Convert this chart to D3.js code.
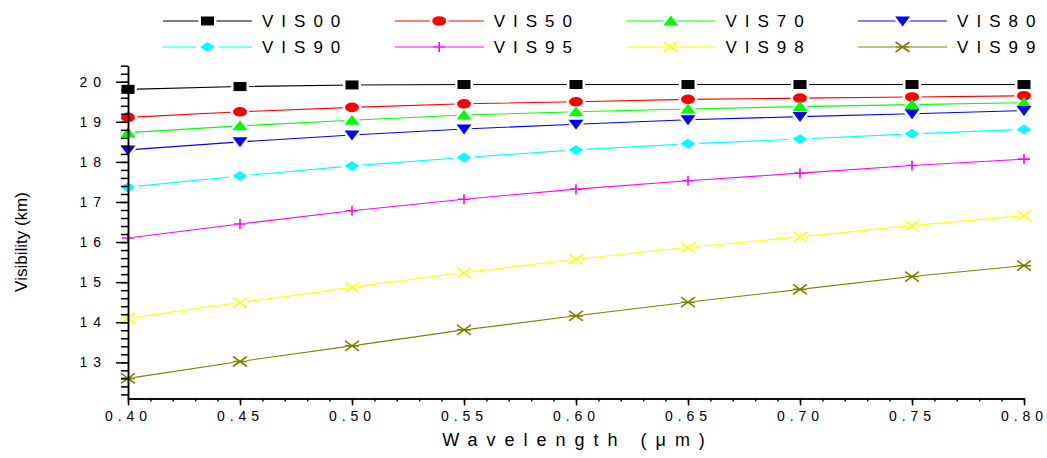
<!DOCTYPE html>
<html>
<head>
<meta charset="utf-8">
<script src="https://cdn.jsdelivr.net/npm/d3@7"></script>
<style>
  body { margin: 0; background: #fff; }
  text { font-family: Arial, "Liberation Sans", sans-serif; fill: #000; }
</style>
</head>
<body>
<script>
// Data
var wavelengths = [0.40, 0.45, 0.50, 0.55, 0.60, 0.65, 0.70, 0.75, 0.80];
var vis00 = [19.81, 19.88, 19.92, 19.93, 19.93, 19.93, 19.93, 19.93, 19.93];
var vis50 = [19.11, 19.25, 19.36, 19.45, 19.50, 19.56, 19.59, 19.62, 19.65];
var vis70 = [18.73, 18.90, 19.04, 19.17, 19.25, 19.32, 19.38, 19.43, 19.48];
var vis80 = [18.30, 18.50, 18.67, 18.82, 18.94, 19.05, 19.13, 19.20, 19.28];
var vis90 = [17.37, 17.65, 17.90, 18.11, 18.30, 18.45, 18.57, 18.70, 18.81];
var vis95 = [16.10, 16.45, 16.78, 17.07, 17.32, 17.53, 17.72, 17.91, 18.07];
var vis98 = [14.10, 14.49, 14.87, 15.24, 15.57, 15.87, 16.13, 16.41, 16.66];
var vis99 = [12.60, 13.02, 13.41, 13.81, 14.16, 14.50, 14.82, 15.14, 15.41];

var seriesNames = ['VIS00', 'VIS50', 'VIS70', 'VIS80', 'VIS90', 'VIS95', 'VIS98', 'VIS99'];
var seriesValues = [vis00, vis50, vis70, vis80, vis90, vis95, vis98, vis99];
var colors = ['#000000', '#ff0000', '#00ff00', '#0000ff', '#00ffff', '#ff00ff', '#ffff00', '#808000'];
var symbols = ['square', 'circle', 'up', 'down', 'diamond', 'plus', 'cross', 'star'];

var xTicks = [0.40, 0.45, 0.50, 0.55, 0.60, 0.65, 0.70, 0.75, 0.80];
var yTicks = [13, 14, 15, 16, 17, 18, 19, 20];

var W = 1047, H = 458;
var xScale = d3.scaleLinear().domain([0.40, 0.80]).range([128, 1024]);
var yScale = d3.scaleLinear().domain([12.1, 20.4]).range([398.4, 65.7]);

var svg = d3.select('body').append('svg')
    .attr('width', W)
    .attr('height', H);

// marker shapes (stretched a bit horizontally like the original)
function markerPath(type) {
    switch (type) {
        case 'square':  return 'M-6.5,-4.5H6.5V4.5H-6.5Z';
        case 'circle':  return 'M-7,0A7,4.8 0 1,0 7,0A7,4.8 0 1,0 -7,0Z';
        case 'up':      return 'M0,-5.5L7.5,4.5L-7.5,4.5Z';
        case 'down':    return 'M0,5.5L7.5,-4.5L-7.5,-4.5Z';
        case 'diamond': return 'M0,-5L7.5,0L0,5L-7.5,0Z';
        case 'plus':    return 'M-6,0H6M0,-5V5';
        case 'cross':   return 'M-7,-5L7,5M-7,5L7,-5';
        case 'star':    return 'M-7,-5L7,5M-7,5L7,-5M-7,0H7';
    }
}
function isFilled(type) {
    return ['square', 'circle', 'up', 'down', 'diamond'].indexOf(type) >= 0;
}
// white halo leaves a small gap in the line around each marker
function drawHalo(g, type, x, y) {
    g.append('path')
        .attr('d', markerPath(type))
        .attr('transform', 'translate(' + x + ',' + y + ')')
        .attr('fill', isFilled(type) ? '#fff' : 'none')
        .attr('stroke', '#fff')
        .attr('stroke-width', 5);
}
function drawMarker(g, type, color, x, y) {
    var filled = isFilled(type);
    g.append('path')
        .attr('d', markerPath(type))
        .attr('transform', 'translate(' + x + ',' + y + ')')
        .attr('fill', filled ? color : 'none')
        .attr('stroke', color)
        .attr('stroke-width', filled ? 0 : 1.6);
}

// Lines, then halos, then markers
var line = d3.line()
    .x(function(d, i) { return xScale(wavelengths[i]); })
    .y(function(d) { return yScale(d); });

var gLines = svg.append('g'), gHalo = svg.append('g'), gMarks = svg.append('g');
seriesValues.forEach(function(vals, s) {
    gLines.append('path')
        .attr('d', line(vals))
        .attr('fill', 'none')
        .attr('stroke', colors[s])
        .attr('stroke-width', 1.1);
    vals.forEach(function(v, i) {
        drawHalo(gHalo, symbols[s], xScale(wavelengths[i]), yScale(v));
        drawMarker(gMarks, symbols[s], colors[s], xScale(wavelengths[i]), yScale(v));
    });
});

// X axis (minor then major)
var minorX = d3.range(0, 41).map(function(i) { return 0.40 + i * 0.01; });
svg.append('g')
   .attr('transform', 'translate(0,' + yScale(12.1) + ')')
   .call(d3.axisBottom(xScale).tickValues(minorX).tickSize(3).tickSizeOuter(0).tickFormat(''))
   .call(function(g) { g.selectAll('line, path').attr('stroke-width', 1.5); });
var xAxis = svg.append('g')
   .attr('transform', 'translate(0,' + yScale(12.1) + ')')
   .call(d3.axisBottom(xScale).tickValues(xTicks).tickSize(7).tickSizeOuter(0).tickPadding(6)
         .tickFormat(d3.format('.2f')));
xAxis.selectAll('line, path').attr('stroke-width', 1.5);
xAxis.selectAll('text')
   .attr('font-size', 14)
   .attr('font-family', 'Arial, "Liberation Sans", sans-serif')
   .style('letter-spacing', '5px');

// Y axis (minor then major)
var minorY = d3.range(0, 42).map(function(i) { return 12.2 + i * 0.2; });
svg.append('g')
   .attr('transform', 'translate(' + xScale(0.40) + ',0)')
   .call(d3.axisLeft(yScale).tickValues(minorY).tickSize(7).tickSizeOuter(0).tickFormat(''))
   .call(function(g) { g.selectAll('line, path').attr('stroke-width', 1.5); });
var yAxis = svg.append('g')
   .attr('transform', 'translate(' + xScale(0.40) + ',0)')
   .call(d3.axisLeft(yScale).tickValues(yTicks).tickSize(12).tickSizeOuter(0).tickPadding(9)
         .tickFormat(d3.format('d')));
yAxis.selectAll('line, path').attr('stroke-width', 1.5);
yAxis.selectAll('text')
   .attr('font-size', 14)
   .attr('font-family', 'Arial, "Liberation Sans", sans-serif')
   .style('letter-spacing', '6px');

// Axis titles
svg.append('text')
   .text('Wavelength (μm)')
   .attr('x', 578)
   .attr('y', 446)
   .attr('text-anchor', 'middle')
   .attr('font-size', 18)
   .style('letter-spacing', '9px');

svg.append('text')
   .text('Visibility (km)')
   .attr('transform', 'translate(27,242) rotate(-90)')
   .attr('text-anchor', 'middle')
   .attr('font-size', 17);

// Legend: 2 rows x 4 columns
seriesNames.forEach(function(name, s) {
    var col = s % 4, row = Math.floor(s / 4);
    var x0 = 163 + col * 231.7, y0 = 21 + row * 26;
    var g = svg.append('g');
    g.append('line')
        .attr('x1', x0).attr('x2', x0 + 89)
        .attr('y1', y0).attr('y2', y0)
        .attr('stroke', colors[s])
        .attr('stroke-width', 1.1);
    drawHalo(g, symbols[s], x0 + 44.5, y0);
    drawMarker(g, symbols[s], colors[s], x0 + 44.5, y0);
    g.append('text')
        .text(name)
        .attr('x', x0 + 99)
        .attr('y', y0 + 6)
        .attr('font-size', 17)
        .style('letter-spacing', '8px');
});
</script>
</body>
</html>
